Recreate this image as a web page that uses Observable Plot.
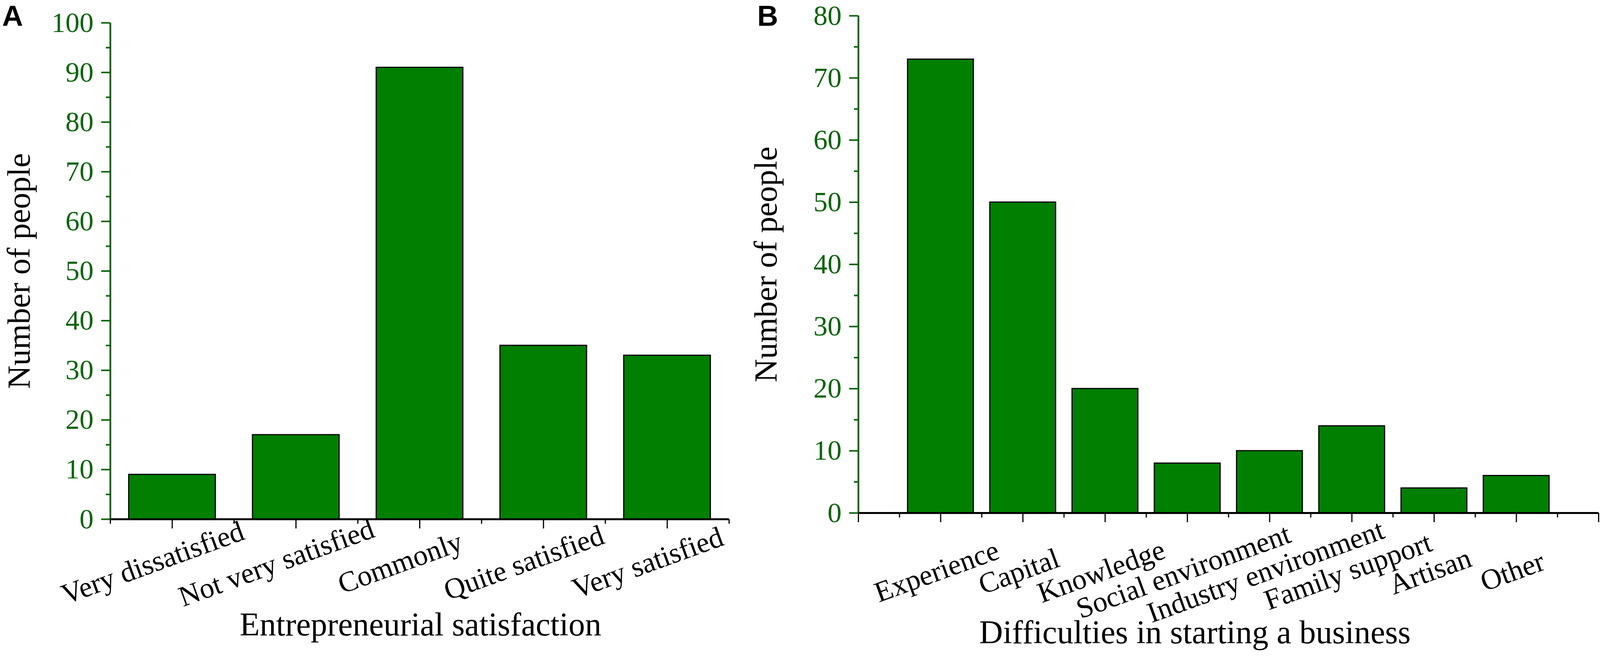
<!DOCTYPE html>
<html>
<head>
<meta charset="utf-8">
<script src="https://cdn.jsdelivr.net/npm/d3@7"></script>
<script src="https://cdn.jsdelivr.net/npm/@observablehq/plot@0.6"></script>
<style>
  html, body { margin: 0; padding: 0; background: #ffffff; }
  #wrap { position: relative; width: 4109px; height: 1695px; overflow: hidden; background: #fff; }
  #wrap > div { position: absolute; top: 0; }
</style>
</head>
<body>
<div id="wrap"><div id="pa" style="left:0px"></div><div id="pb" style="left:1900px"></div></div>
<script>
// ---- data ----
const categoriesA = ["Very dissatisfied", "Not very satisfied", "Commonly", "Quite satisfied", "Very satisfied"];
const valuesA = [9, 17, 91, 35, 33];
const yTicksA = [0, 10, 20, 30, 40, 50, 60, 70, 80, 90, 100];
const yMinorA = [5, 15, 25, 35, 45, 55, 65, 75, 85, 95];

const categoriesB = ["Experience", "Capital", "Knowledge", "Social environment", "Industry environment", "Family support", "Artisan", "Other"];
const valuesB = [73, 50, 20, 8, 10, 14, 4, 6];
const yTicksB = [0, 10, 20, 30, 40, 50, 60, 70, 80];
const yMinorB = [5, 15, 25, 35, 45, 55, 65, 75];

const titleA = "Entrepreneurial satisfaction";
const titleB = "Difficulties in starting a business";
const yTitle = "Number of people";

// ---- style ----
const SERIF = "'Liberation Serif', 'Times New Roman', Times, serif";
const SANS = "'Liberation Sans', Arial, Helvetica, sans-serif";
const BAR = "#007f00";
const AXG = "#0b640b";

function panel({cats, vals, yTicks, yMinor, yMax, xDomain, majorX, minorX, barW,
                width, mL, mR, mT, mB, letter, title, labDx, labDy, titleDx, titleDy, yTitleDx, letterDx, letterDy}) {
  const data = cats.map((c, i) => ({cat: c, pos: i + 1, value: vals[i]}));
  return Plot.plot({
    width, height: 1695,
    marginLeft: mL, marginRight: mR, marginTop: mT, marginBottom: mB,
    style: {fontFamily: SERIF, background: "white", overflow: "visible"},
    x: {domain: xDomain, axis: null},
    y: {domain: [0, yMax], axis: null},
    marks: [
      Plot.rectY(data, {x1: d => d.pos - barW / 2, x2: d => d.pos + barW / 2, y1: 0, y2: "value",
                         fill: BAR, stroke: "black", strokeWidth: 3}),
      // y axis (green)
      Plot.ruleX([xDomain[0]], {y1: 0, y2: yMax, stroke: AXG, strokeWidth: 4.5}),
      Plot.axisY({ticks: yTicks, tickSize: 23, tickPadding: 20, fontSize: 72, stroke: AXG, fill: AXG,
                  strokeWidth: 4, label: null, fontFamily: SERIF}),
      Plot.axisY({ticks: yMinor, tickSize: 11, tickFormat: () => "", stroke: AXG, strokeWidth: 4, label: null}),
      // x axis (black)
      Plot.ruleY([0], {stroke: "black", strokeWidth: 5}),
      Plot.axisX({ticks: majorX, tickSize: 24, tickFormat: () => "", stroke: "black", strokeWidth: 3, label: null}),
      Plot.axisX({ticks: minorX, tickSize: 12, tickFormat: () => "", stroke: "black", strokeWidth: 3, label: null}),
      // category labels
      Plot.text(data, {x: "pos", frameAnchor: "bottom", text: "cat", rotate: -20, dx: labDx, dy: labDy,
                       fontSize: 74, fill: "black", textAnchor: "middle", lineAnchor: "middle", fontFamily: SERIF}),
      // axis titles
      Plot.text([title], {frameAnchor: "bottom", dx: titleDx, dy: titleDy, fontSize: 84, fill: "black",
                          textAnchor: "middle", lineAnchor: "middle", fontFamily: SERIF}),
      Plot.text([yTitle], {frameAnchor: "left", rotate: -90, dx: yTitleDx, fontSize: 83, fill: "black",
                           textAnchor: "middle", lineAnchor: "middle", fontFamily: SERIF}),
      // panel letter
      Plot.text([letter], {frameAnchor: "top-left", dx: letterDx, dy: letterDy, fontSize: 74, fontWeight: "bold",
                           fill: "black", textAnchor: "start", lineAnchor: "middle", fontFamily: SANS})
    ]
  });
}

const a = panel({
  cats: categoriesA, vals: valuesA, yTicks: yTicksA, yMinor: yMinorA, yMax: 100,
  xDomain: [0.5, 5.5], majorX: [1, 2, 3, 4, 5], minorX: [0.5, 1.5, 2.5, 3.5, 4.5, 5.5], barW: 0.7,
  width: 1900, mL: 282, mR: 34, mT: 58, mB: 1695 - 1329,
  letter: "A", title: titleA, labDx: -50, labDy: 112, titleDx: 2, titleDy: 271, yTitleDx: -233,
  letterDx: -277, letterDy: -16
});
const b = panel({
  cats: categoriesB, vals: valuesB, yTicks: yTicksB, yMinor: yMinorB, yMax: 80,
  xDomain: [0, 9], majorX: [0, 1, 2, 3, 4, 5, 6, 7, 8, 9], minorX: [0.5, 1.5, 2.5, 3.5, 4.5, 5.5, 6.5, 7.5, 8.5], barW: 0.8,
  width: 2209, mL: 297, mR: 17, mT: 40, mB: 1695 - 1313,
  letter: "B", title: titleB, labDx: -10, labDy: 150, titleDx: -86, titleDy: 307, yTitleDx: -236,
  letterDx: -259, letterDy: 2
});
document.getElementById("pa").appendChild(a);
document.getElementById("pb").appendChild(b);
</script>
</body>
</html>
